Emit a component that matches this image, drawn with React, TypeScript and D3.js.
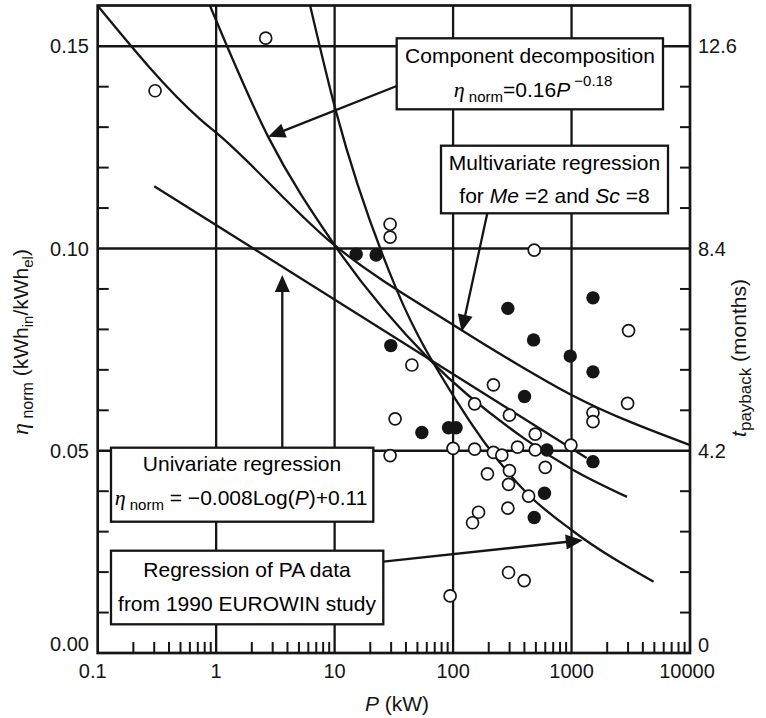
import React from 'react';
import * as d3 from 'd3';

const W = 766;
const H = 718;
const plot = { left: 97.7, right: 690, top: 5.5, bottom: 653 };

// axis ticks
const xMajor = [0.1, 1, 10, 100, 1000, 10000];
const xMajorLabels = ['0.1', '1', '10', '100', '1000', '10000'];
const yMajor = [0, 0.05, 0.1, 0.15];
const yMajorLabels = ['0.00', '0.05', '0.10', '0.15'];
const rightLabels = ['0', '4.2', '8.4', '12.6'];

// data points (P in kW, eta_norm)
const openP = [0.305, 2.62, 29.4, 29.4, 484, 3030, 44.9, 219, 152, 299, 2974, 1517, 1517, 32.4, 494, 100, 152, 219, 258, 350, 494, 988, 29.4, 195, 299, 600, 294, 434, 164, 146, 290, 294, 398, 94.4];
const openEta = [0.139, 0.152, 0.106, 0.1028, 0.0996, 0.0797, 0.0712, 0.0663, 0.0616, 0.0588, 0.0617, 0.0594, 0.0572, 0.0579, 0.0541, 0.0506, 0.0504, 0.0496, 0.0489, 0.0509, 0.0502, 0.0514, 0.0488, 0.0443, 0.0451, 0.0459, 0.0417, 0.0388, 0.0348, 0.0322, 0.0358, 0.0199, 0.0179, 0.0141];
const filledP = [15.2, 22.4, 29.8, 54.5, 91.5, 106, 290, 478, 401, 975, 1517, 1517, 620, 1517, 591, 484];
const filledEta = [0.0986, 0.0984, 0.076, 0.0545, 0.0557, 0.0557, 0.0852, 0.0774, 0.0634, 0.0734, 0.0878, 0.0695, 0.0502, 0.0473, 0.0395, 0.0335];

// curves
const multiP = [0.1, 0.73, 1.06, 9.8, 107, 322, 1000, 10000];
const multiEta = [0.16, 0.132, 0.128, 0.101, 0.0806, 0.072, 0.0638, 0.0514];
const uniP = [0.3, 1343];
const uniEta = [0.1154, 0.0482];
const compP = [0.887, 2.75, 9.75, 64, 400, 1000, 2940];
const compEta = [0.16, 0.1276, 0.1013, 0.0724, 0.053, 0.0455, 0.0386];
const euroP = [6.22, 10.2, 33.5, 106, 420, 1000, 4930];
const euroEta = [0.16, 0.1342, 0.0897, 0.0625, 0.0395, 0.0304, 0.0176];

const ink = '#151515';
const sans = '"Liberation Sans", Arial, Helvetica, sans-serif';
const serif = '"Liberation Serif", "Times New Roman", serif';

const x = d3.scaleLog().domain([0.1, 10000]).range([plot.left, plot.right]);
const y = d3.scaleLinear().domain([0, 0.16]).range([plot.bottom, plot.top + 0.3]);

const line = d3
  .line<[number, number]>()
  .x((d) => x(d[0]))
  .y((d) => y(d[1]))
  .curve(d3.curveMonotoneX);

const zip = (a: number[], b: number[]) => a.map((v, i) => [v, b[i]] as [number, number]);

function Arrow({ x1, y1, x2, y2 }: { x1: number; y1: number; x2: number; y2: number }) {
  const a = Math.atan2(y2 - y1, x2 - x1);
  const L = 17;
  const w = 7.5;
  const bx = x2 - L * Math.cos(a);
  const by = y2 - L * Math.sin(a);
  const p1 = [bx + w * Math.sin(a), by - w * Math.cos(a)];
  const p2 = [bx - w * Math.sin(a), by + w * Math.cos(a)];
  return (
    <g>
      <line x1={x1} y1={y1} x2={bx + 2 * Math.cos(a)} y2={by + 2 * Math.sin(a)} stroke={ink} strokeWidth={2.3} />
      <polygon points={`${x2},${y2} ${p1[0]},${p1[1]} ${p2[0]},${p2[1]}`} fill={ink} />
    </g>
  );
}

function Box({ x0, y0, x1, y1 }: { x0: number; y0: number; x1: number; y1: number }) {
  return <rect x={x0} y={y0} width={x1 - x0} height={y1 - y0} fill="#fff" stroke={ink} strokeWidth={2.3} />;
}

export default function App() {
  const minorX: number[] = [];
  for (let d = 0.1; d < 5000; d *= 10) for (let k = 2; k <= 9; k++) minorX.push(k * d);
  const minorY = d3.range(1, 16).map((i) => i / 100).filter((v, i) => (i + 1) % 5 !== 0);

  const fs = 21;
  return (
    <svg width={W} height={H} style={{ position: 'absolute', left: 0, top: 0, background: '#fff' }} fontFamily={sans}>
      <rect width={W} height={H} fill="#fff" />
      {/* grid */}
      {[1, 10, 100, 1000].map((v) => (
        <line key={'gx' + v} x1={x(v)} x2={x(v)} y1={plot.top} y2={plot.bottom} stroke={ink} strokeWidth={2.3} />
      ))}
      {[0.05, 0.1, 0.15].map((v) => (
        <line key={'gy' + v} x1={plot.left} x2={plot.right} y1={y(v)} y2={y(v)} stroke={ink} strokeWidth={2.3} />
      ))}
      {/* minor ticks */}
      {minorX.map((v) => (
        <line key={'mx' + v} x1={x(v)} x2={x(v)} y1={plot.bottom} y2={plot.bottom - 11} stroke={ink} strokeWidth={2} />
      ))}
      {minorY.map((v) => (
        <g key={'my' + v}>
          <line x1={plot.left} x2={plot.left + 11} y1={y(v)} y2={y(v)} stroke={ink} strokeWidth={2} />
          <line x1={plot.right} x2={plot.right - 10} y1={y(v)} y2={y(v)} stroke={ink} strokeWidth={2} />
        </g>
      ))}

      {/* curves */}
      <path d={line(zip(multiP, multiEta)) || ''} fill="none" stroke={ink} strokeWidth={2.3} />
      <path d={line(zip(uniP, uniEta)) || ''} fill="none" stroke={ink} strokeWidth={2.3} />
      <path d={line(zip(compP, compEta)) || ''} fill="none" stroke={ink} strokeWidth={2.3} />
      <path d={line(zip(euroP, euroEta)) || ''} fill="none" stroke={ink} strokeWidth={2.3} />

      {/* points */}
      {openP.map((p, i) => (
        <circle key={'o' + i} cx={x(p)} cy={y(openEta[i])} r={6} fill="#fff" stroke={ink} strokeWidth={1.7} />
      ))}
      {filledP.map((p, i) => (
        <circle key={'f' + i} cx={x(p)} cy={y(filledEta[i])} r={6.7} fill={ink} />
      ))}

      {/* annotations */}
      <Arrow x1={396.7} y1={86} x2={x(2.75)} y2={y(0.1276)} />
      <Box x0={396.7} y0={38.3} x1={663} y1={109.3} />
      <text x={530} y={62.7} fontSize={fs} textAnchor="middle">Component decomposition</text>
      <text x={533} y={97} fontSize={fs} textAnchor="middle">
        <tspan fontFamily={serif} fontStyle="italic" fontSize={22}>η</tspan>
        <tspan fontSize={15} dy={5}> norm</tspan>
        <tspan dy={-5}>=0.16</tspan>
        <tspan fontStyle="italic">P</tspan>
        <tspan fontSize={15} dy={-11}> −0.18</tspan>
      </text>

      <Arrow x1={487.3} y1={213.3} x2={x(118)} y2={y(0.0794)} />
      <Box x0={441} y0={145.7} x1={668} y1={213.3} />
      <text x={554.5} y={170} fontSize={fs} textAnchor="middle">Multivariate regression</text>
      <text x={554.5} y={203.3} fontSize={fs} textAnchor="middle">
        for <tspan fontStyle="italic">Me</tspan> =2 and <tspan fontStyle="italic">Sc</tspan> =8
      </text>

      <Arrow x1={282.3} y1={447.7} x2={282.3} y2={275} />
      <Box x0={111} y0={447.7} x1={373.3} y1={521.7} />
      <text x={242} y={470.7} fontSize={fs} textAnchor="middle">Univariate regression</text>
      <text x={241} y={505} fontSize={fs} textAnchor="middle">
        <tspan fontFamily={serif} fontStyle="italic" fontSize={22}>η</tspan>
        <tspan fontSize={15} dy={5}> norm</tspan>
        <tspan dy={-5}> = −0.008Log(</tspan>
        <tspan fontStyle="italic">P</tspan>
        <tspan>)+0.11</tspan>
      </text>

      <Arrow x1={383.3} y1={561.7} x2={x(1246)} y2={y(0.0279)} />
      <Box x0={111} y0={550.7} x1={383.3} y1={624.3} />
      <text x={247} y={576.7} fontSize={fs} textAnchor="middle">Regression of PA data</text>
      <text x={247} y={611} fontSize={fs} textAnchor="middle">from 1990 EUROWIN study</text>

      {/* frame */}
      <rect x={plot.left} y={plot.top} width={plot.right - plot.left} height={plot.bottom - plot.top} fill="none" stroke={ink} strokeWidth={2.7} />

      {/* tick labels */}
      {xMajor.map((v, i) => (
        <text key={'xl' + v} x={x(v) - (i === 0 ? 5 : i === 5 ? 3 : 0)} y={678} fontSize={20} textAnchor="middle" fill={ink}>
          {xMajorLabels[i]}
        </text>
      ))}
      {yMajor.map((v, i) => (
        <text key={'yl' + v} x={89} y={i === 0 ? 651 : y(v) + 7} fontSize={20} textAnchor="end" fill={ink}>
          {yMajorLabels[i]}
        </text>
      ))}
      {yMajor.map((v, i) => (
        <text key={'rl' + v} x={698} y={i === 0 ? 652 : y(v) + 7} fontSize={20} textAnchor="start" fill={ink}>
          {rightLabels[i]}
        </text>
      ))}

      {/* axis titles */}
      <text x={397} y={711} fontSize={fs} textAnchor="middle" fill={ink}>
        <tspan fontStyle="italic">P</tspan> (kW)
      </text>
      <text transform="translate(28,342) rotate(-90)" fontSize={fs} textAnchor="middle" fill={ink}>
        <tspan fontFamily={serif} fontStyle="italic" fontSize={24}>η</tspan>
        <tspan fontSize={16} dy={5}> norm</tspan>
        <tspan dy={-5}> (kWh</tspan>
        <tspan fontSize={15} dy={5}>in</tspan>
        <tspan dy={-5}>/kWh</tspan>
        <tspan fontSize={15} dy={5}>el</tspan>
        <tspan dy={-5}>)</tspan>
      </text>
      <text transform="translate(746,358) rotate(-90)" fontSize={fs} textAnchor="middle" fill={ink}>
        <tspan fontStyle="italic">t</tspan>
        <tspan fontSize={17} dy={5}>payback</tspan>
        <tspan dy={-5}> (months)</tspan>
      </text>
    </svg>
  );
}
